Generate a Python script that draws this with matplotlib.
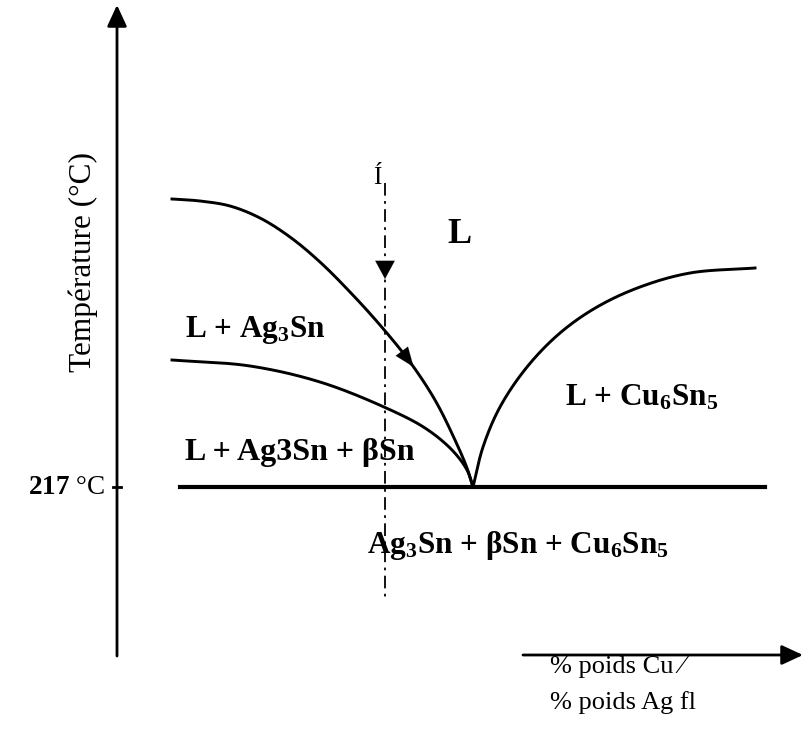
"""Schematic Sn-Ag-Cu phase diagram section (reproduction)."""
import numpy as np
import matplotlib.pyplot as plt

# Curves of the section, in drawing units (x to the right, y downwards)
liq_left_x = [172, 200, 230, 260, 290, 320, 350, 380, 410, 435, 455, 467, 473]
liq_left_y = [199, 201, 206, 218, 237, 262, 292, 325, 362, 400, 440, 468, 487]

sol_left_x = [172, 250, 320, 384, 425, 452, 467, 473]
sol_left_y = [360, 366, 382, 407, 428, 450, 470, 487]

liq_right_x = [473, 483, 500, 527, 560, 597, 640, 690, 755]
liq_right_y = [487, 447, 407, 367, 333, 307, 287, 273, 268]

eutectic_x = [180, 765]
eutectic_y = [487, 487]
T_eutectic = 487
x_alloy = 385

labels = ["L", "L + Ag$_3$Sn", "L + Ag3Sn + βSn", "L + Cu$_6$Sn$_5$",
          "Ag$_3$Sn + βSn + Cu$_6$Sn$_5$"]
label_x = [447, 185, 185, 565, 367]
label_y = [234, 330, 452, 398, 545]
label_size = [26, 22.5, 23, 22.5, 22.5]

plt.rcParams['font.family'] = ['Liberation Serif', 'DejaVu Serif']
plt.rcParams['mathtext.fontset'] = 'custom'
plt.rcParams['mathtext.rm'] = 'Liberation Serif'
plt.rcParams['mathtext.bf'] = 'Liberation Serif:bold'
plt.rcParams['mathtext.default'] = 'regular'

fig = plt.figure(figsize=(8.03, 7.35), dpi=100)
ax = fig.add_axes([0, 0, 1, 1])
ax.set_xlim(0, 803)
ax.set_ylim(735, 0)
ax.axis('off')

k = 'black'
head = '-|>,head_length=1.3,head_width=0.6'

# Axes arrows
ax.annotate('', xy=(117, 5), xytext=(117, 656),
            arrowprops=dict(arrowstyle=head, color=k, lw=2,
                            shrinkA=0, shrinkB=0))
ax.annotate('', xy=(803, 655), xytext=(523, 655),
            arrowprops=dict(arrowstyle=head, color=k, lw=2,
                            shrinkA=0, shrinkB=0))
ax.plot([113, 121], [T_eutectic, T_eutectic], color=k, lw=2)


# Centripetal Catmull-Rom through the read points
def smooth(xs, ys, n=30):
    P = np.c_[np.asarray(xs, float), np.asarray(ys, float)]
    P = np.vstack([2 * P[0] - P[1], P, 2 * P[-1] - P[-2]])
    pts = []
    for i in range(1, len(P) - 2):
        p0, p1, p2, p3 = P[i - 1], P[i], P[i + 1], P[i + 2]
        t0 = 0.0
        t1 = t0 + np.linalg.norm(p1 - p0) ** 0.5
        t2 = t1 + np.linalg.norm(p2 - p1) ** 0.5
        t3 = t2 + np.linalg.norm(p3 - p2) ** 0.5
        for t in np.linspace(t1, t2, n, endpoint=False):
            a1 = (t1 - t) / (t1 - t0) * p0 + (t - t0) / (t1 - t0) * p1
            a2 = (t2 - t) / (t2 - t1) * p1 + (t - t1) / (t2 - t1) * p2
            a3 = (t3 - t) / (t3 - t2) * p2 + (t - t2) / (t3 - t2) * p3
            b1 = (t2 - t) / (t2 - t0) * a1 + (t - t0) / (t2 - t0) * a2
            b2 = (t3 - t) / (t3 - t1) * a2 + (t - t1) / (t3 - t1) * a3
            pts.append((t2 - t) / (t2 - t1) * b1 + (t - t1) / (t2 - t1) * b2)
    pts.append(P[-2])
    pts = np.array(pts)
    return pts[:, 0], pts[:, 1]


lx, ly = smooth(liq_left_x, liq_left_y)
ax.plot(lx, ly, color=k, lw=2.1)
sx, sy = smooth(sol_left_x, sol_left_y)
ax.plot(sx, sy, color=k, lw=2.1)
rx, ry = smooth(liq_right_x, liq_right_y)
ax.plot(rx, ry, color=k, lw=2.1)
ax.plot(eutectic_x, eutectic_y, color=k, lw=3)

# Arrow on the liquidus
i = np.argmin(np.abs(lx - 414))
ax.annotate('', xy=(lx[i], ly[i]), xytext=(lx[i - 12], ly[i - 12]),
            arrowprops=dict(arrowstyle='-|>,head_length=1.4,head_width=0.55',
                            color=k, lw=0.1, shrinkA=0, shrinkB=0))

# Alloy composition line
ax.plot([x_alloy, x_alloy], [183, 597], color=k, lw=1.3,
        dashes=(7, 3, 1.5, 3))
ax.annotate('', xy=(x_alloy, 279), xytext=(x_alloy, 262),
            arrowprops=dict(arrowstyle='-|>,head_length=1.3,head_width=0.7',
                            color=k, lw=0.1, shrinkA=0, shrinkB=0))
ax.text(377, 178, 'Í', fontsize=18, ha='center', va='center')

# Region labels
for s, x, y, fs in zip(labels, label_x, label_y, label_size):
    ax.text(x, y, s, fontsize=fs, fontweight='bold', ha='left', va='center')

ax.text(105, T_eutectic, r'$\mathbf{217}$ °C', fontsize=19.5,
        ha='right', va='center')
ax.text(83, 262, 'Température (°C)', fontsize=22.5, rotation=90,
        ha='center', va='center')
ax.text(550, 667, '% poids Cu ⁄', fontsize=19, ha='left', va='center')
ax.text(550, 703, '% poids Ag fl', fontsize=19, ha='left', va='center')

fig.savefig('out.png', dpi=100)
